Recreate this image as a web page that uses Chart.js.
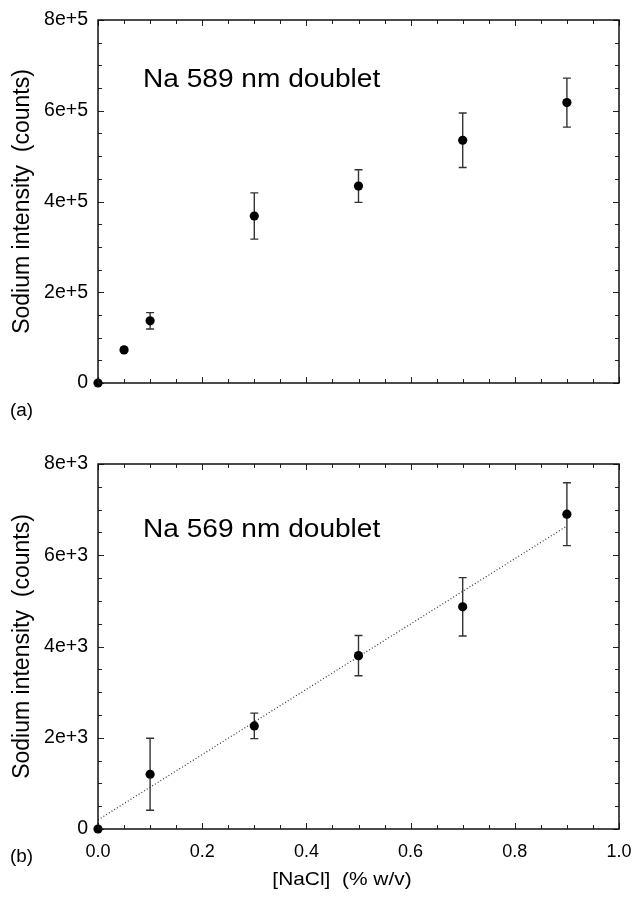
<!DOCTYPE html>
<html>
<head>
<meta charset="utf-8">
<script src="https://cdn.jsdelivr.net/npm/chart.js@4/dist/chart.umd.min.js"></script>
<style>
  html, body { margin:0; padding:0; background:#fff; }
  #wrap { position:relative; width:633px; height:897px; background:#fff; }
  canvas { position:absolute; left:0; }
</style>
</head>
<body>
<div id="wrap">
  <canvas id="cA" width="633" height="440" style="top:0"></canvas>
  <canvas id="cB" width="633" height="457" style="top:440px"></canvas>
</div>
<script>
// ---------- data ----------
// Panel (a): Na 589 nm doublet
const concA      = [0, 0.05, 0.1, 0.3, 0.5, 0.7, 0.9];
const intensityA = [0, 73000, 137000, 368000, 434000, 535000, 618000];
const errorA     = [0, 0, 18000, 51000, 36000, 60000, 54000];
const yTicksA    = [0, 200000, 400000, 600000, 800000];
const yLabelsA   = ['0', '2e+5', '4e+5', '6e+5', '8e+5'];

// Panel (b): Na 569 nm doublet
const concB      = [0, 0.1, 0.3, 0.5, 0.7, 0.9];
const intensityB = [0, 1200, 2260, 3800, 4870, 6900];
const errorB     = [0, 790, 280, 440, 640, 690];
const fitXB      = [0, 0.9];
const fitYB      = [200, 6640];
const yTicksB    = [0, 2000, 4000, 6000, 8000];
const yLabelsB   = ['0', '2e+3', '4e+3', '6e+3', '8e+3'];

const xTicks     = [0, 0.2, 0.4, 0.6, 0.8, 1.0];
const xLabels    = ['0.0', '0.2', '0.4', '0.6', '0.8', '1.0'];

const FONT = "'Liberation Sans', Arial, Helvetica, sans-serif";

// ---------- plugins ----------
const errorBars = {
  id: 'errorBars',
  beforeDatasetsDraw(chart, args, opts) {
    const {ctx, scales: {x, y}} = chart;
    ctx.save();
    ctx.strokeStyle = '#333';
    ctx.lineWidth = 1.4;
    opts.xs.forEach((xv, i) => {
      const e = opts.errs[i];
      if (!e) return;
      const px = x.getPixelForValue(xv);
      const pt = y.getPixelForValue(opts.ys[i] + e);
      const pb = y.getPixelForValue(opts.ys[i] - e);
      ctx.beginPath();
      ctx.moveTo(px, pt); ctx.lineTo(px, pb);
      ctx.moveTo(px - 4, pt); ctx.lineTo(px + 4, pt);
      ctx.moveTo(px - 4, pb); ctx.lineTo(px + 4, pb);
      ctx.stroke();
    });
    ctx.restore();
  }
};

function stretchedText(ctx, text, x, y, sx, align, baseline) {
  ctx.save();
  ctx.translate(x, y);
  ctx.scale(sx, 1);
  ctx.textAlign = align;
  ctx.textBaseline = baseline;
  ctx.fillText(text, 0, 0);
  ctx.restore();
}

const frame = {
  id: 'frame',
  afterDatasetsDraw(chart, args, opts) {
    const {ctx, chartArea: {left, right, top, bottom}, scales: {x, y}} = chart;
    ctx.save();
    ctx.strokeStyle = '#222';
    ctx.lineWidth = 1;
    // x ticks (inward, bottom and top)
    for (let k = 0; k <= opts.xMinorCount; k++) {
      const v = opts.xMin + k * opts.xMinorStep;
      const px = Math.round(x.getPixelForValue(v)) + 0.5;
      const len = (k % opts.xMajorEvery === 0) ? 6 : 4;
      ctx.beginPath();
      ctx.moveTo(px, bottom); ctx.lineTo(px, bottom - len);
      ctx.moveTo(px, top); ctx.lineTo(px, top + len);
      ctx.stroke();
    }
    // y ticks (inward, left and right)
    for (let k = 0; k <= opts.yMinorCount; k++) {
      const v = opts.yMin + k * opts.yMinorStep;
      const py = Math.round(y.getPixelForValue(v)) + 0.5;
      const len = (k % opts.yMajorEvery === 0) ? 6 : 4;
      ctx.beginPath();
      ctx.moveTo(left, py); ctx.lineTo(left + len, py);
      ctx.moveTo(right, py); ctx.lineTo(right - len, py);
      ctx.stroke();
    }
    // box
    ctx.strokeStyle = '#111';
    ctx.lineWidth = 1.5;
    ctx.strokeRect(left, top, right - left, bottom - top);
    // annotation
    ctx.fillStyle = '#000';
    ctx.font = '26px ' + FONT;
    stretchedText(ctx, opts.label, left + opts.labelDx, top + opts.labelDy, 1.08, 'left', 'alphabetic');
    // x-axis title
    if (opts.xTitle) {
      ctx.font = '19px ' + FONT;
      stretchedText(ctx, opts.xTitle, opts.xTitleX, opts.xTitleY, 1.1, 'center', 'middle');
    }
    // panel letter
    ctx.font = '18px ' + FONT;
    stretchedText(ctx, opts.panel, 10, opts.panelY, 1.05, 'left', 'middle');
    ctx.restore();
  }
};

function pts(xs, ys) { return xs.map((v, i) => ({x: v, y: ys[i]})); }

function makeChart(id, cfg) {
  const datasets = [{
    data: pts(cfg.xs, cfg.ys),
    showLine: false,
    pointRadius: 4.6,
    pointHoverRadius: 4.6,
    pointBackgroundColor: '#000',
    pointBorderColor: '#000',
    pointBorderWidth: 0,
    clip: false,
    order: 0
  }];
  if (cfg.fitX) {
    datasets.push({
      data: pts(cfg.fitX, cfg.fitY),
      showLine: true,
      pointRadius: 0,
      borderColor: '#333',
      borderWidth: 1.2,
      borderDash: [1, 2.2],
      fill: false,
      order: 1
    });
  }
  return new Chart(document.getElementById(id), {
    type: 'scatter',
    data: { datasets },
    options: {
      responsive: false,
      animation: false,
      devicePixelRatio: 1,
      events: [],
      layout: { padding: { left: 0, right: 14, top: cfg.padTop, bottom: 0 } },
      plugins: {
        legend: { display: false },
        tooltip: { enabled: false },
        errorBars: { xs: cfg.xs, ys: cfg.ys, errs: cfg.errs },
        frame: {
          xMin: 0, xMinorStep: 0.05, xMinorCount: 20, xMajorEvery: 4,
          yMin: 0, yMinorStep: cfg.yMax / 16, yMinorCount: 16, yMajorEvery: 4,
          label: cfg.label, labelDx: 45, labelDy: cfg.labelDy,
          panel: cfg.panel, panelY: cfg.panelY,
          xTitle: cfg.xTitle, xTitleX: 342, xTitleY: 440
        }
      },
      scales: {
        x: {
          type: 'linear', min: 0, max: 1,
          afterFit(s) {
            s.height = cfg.xAxisH;
            s.paddingLeft = 0; s.paddingRight = 0;
            s.paddingTop = 0; s.paddingBottom = 0;
          },
          afterBuildTicks(s) { s.ticks = xTicks.map(v => ({value: v})); },
          grid: { display: false, drawTicks: false },
          border: { display: false },
          ticks: {
            display: cfg.showX,
            padding: 12,
            color: '#000',
            font: { family: FONT, size: 18 },
            maxRotation: 0,
            callback: (v) => xLabels[xTicks.indexOf(v)]
          },
          title: { display: false }
        },
        y: {
          type: 'linear', min: 0, max: cfg.yMax,
          afterFit(s) {
            s.width = 98;
            s.paddingLeft = 0; s.paddingRight = 0;
            s.paddingTop = 0; s.paddingBottom = 0;
          },
          afterBuildTicks(s) { s.ticks = cfg.yTicks.map(v => ({value: v})); },
          grid: { display: false, drawTicks: false },
          border: { display: false },
          ticks: {
            padding: 10,
            color: '#000',
            font: { family: FONT, size: 19.5 },
            callback: (v) => cfg.yLabels[cfg.yTicks.indexOf(v)]
          },
          title: {
            display: true,
            text: 'Sodium intensity  (counts)',
            color: '#000',
            font: { family: FONT, size: 23 },
            padding: { top: 9, bottom: 0 }
          }
        }
      }
    },
    plugins: [errorBars, frame]
  });
}

makeChart('cA', {
  xs: concA, ys: intensityA, errs: errorA,
  yMax: 800000, yTicks: yTicksA, yLabels: yLabelsA,
  padTop: 20, xAxisH: 57, showX: false,
  label: 'Na 589 nm doublet', labelDy: 67,
  panel: '(a)', panelY: 411
});

makeChart('cB', {
  xs: concB, ys: intensityB, errs: errorB,
  fitX: fitXB, fitY: fitYB,
  yMax: 8000, yTicks: yTicksB, yLabels: yLabelsB,
  padTop: 24, xAxisH: 68, showX: true,
  label: 'Na 569 nm doublet', labelDy: 73,
  xTitle: '[NaCl]  (% w/v)',
  panel: '(b)', panelY: 417
});
</script>
</body>
</html>
